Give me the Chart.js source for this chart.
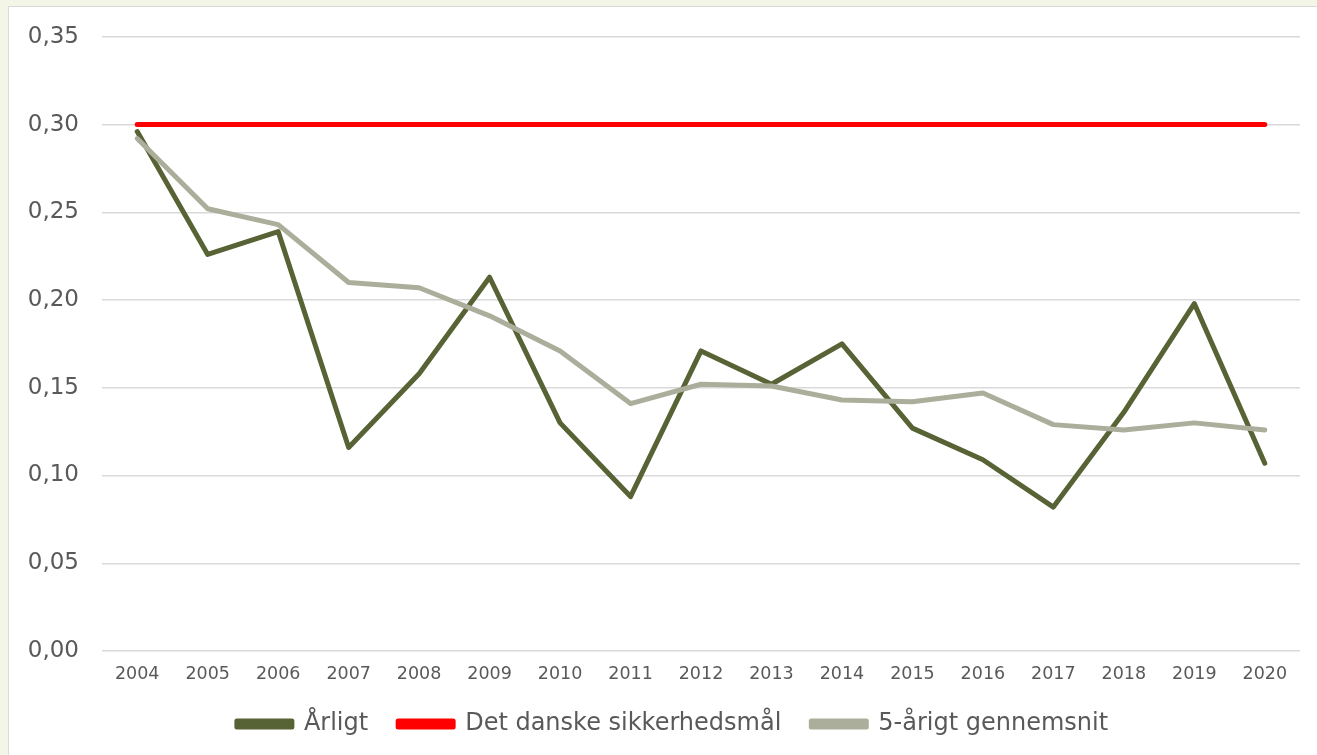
<!DOCTYPE html>
<html>
<head>
<meta charset="utf-8">
<script src="https://cdn.jsdelivr.net/npm/chart.js@4"></script>
<style>
    html, body { margin: 0; padding: 0; background: #F3F6E7; overflow: hidden; }
    #panel { position: absolute; left: 8px; top: 6px; width: 1330px; height: 770px; background: #fff; border: 1px solid #D9D9D9; }
    #wrap { position: absolute; left: 0; top: 0; width: 1317px; height: 755px; }
</style>
</head>
<body>
<div id="panel"></div>
<div id="wrap"><canvas id="chart"></canvas></div>
<script>
const years = ["2004", "2005", "2006", "2007", "2008", "2009", "2010", "2011", "2012",
    "2013", "2014", "2015", "2016", "2017", "2018", "2019", "2020"];

// Årligt
const annual = [0.296, 0.226, 0.239, 0.116, 0.158, 0.213, 0.130, 0.088, 0.171,
    0.152, 0.175, 0.127, 0.109, 0.082, 0.136, 0.198, 0.107];

// Det danske sikkerhedsmål
const target = [0.30, 0.30, 0.30, 0.30, 0.30, 0.30, 0.30, 0.30, 0.30,
    0.30, 0.30, 0.30, 0.30, 0.30, 0.30, 0.30, 0.30];

// 5-årigt gennemsnit
const fiveYear = [0.292, 0.252, 0.243, 0.210, 0.207, 0.191, 0.171, 0.141, 0.152,
    0.151, 0.143, 0.142, 0.147, 0.129, 0.126, 0.130, 0.126];

const textColor = "#595959";
const fontFamily = "'DejaVu Sans', Verdana, sans-serif";

function lineSet(label, data, color, order) {
    return {
        label: label,
        data: data,
        borderColor: color,
        backgroundColor: color,
        borderWidth: 5,
        pointRadius: 0,
        borderCapStyle: "round",
        borderJoinStyle: "round",
        tension: 0,
        order: order
    };
}

const ctx = document.getElementById("chart").getContext("2d");
new Chart(ctx, {
    type: "line",
    data: {
        labels: years,
        datasets: [
            lineSet("Årligt", annual, "#576235", 3),
            lineSet("Det danske sikkerhedsmål", target, "#FF0000", 2),
            lineSet("5-årigt gennemsnit", fiveYear, "#ABAE9A", 1)
        ]
    },
    options: {
        responsive: true,
        maintainAspectRatio: false,
        animation: false,
        layout: { padding: { left: 28, right: 0, top: 36, bottom: 9 } },
        plugins: {
            tooltip: { enabled: false },
            legend: {
                position: "bottom",
                labels: {
                    boxWidth: 55,
                    boxHeight: 6,
                    padding: 30,
                    color: textColor,
                    font: { family: fontFamily, size: 24 },
                    sort: (a, b) => a.datasetIndex - b.datasetIndex
                }
            }
        },
        scales: {
            x: {
                offset: true,
                grid: { display: false },
                border: { display: false },
                ticks: {
                    color: textColor,
                    padding: 5,
                    maxRotation: 0,
                    font: { family: fontFamily, size: 17.5 }
                },
                afterFit: (scale) => { scale.height = 31; }
            },
            y: {
                min: 0,
                max: 0.35,
                grid: { color: "#D9D9D9", lineWidth: 1.5, drawTicks: false },
                border: { display: false },
                ticks: {
                    stepSize: 0.05,
                    color: textColor,
                    padding: 23,
                    font: { family: fontFamily, size: 23 },
                    callback: (v) => v.toFixed(2).replace(".", ",")
                },
                afterFit: (scale) => { scale.width = 74; }
            },
            yRight: {
                position: "right",
                display: true,
                grid: { display: false, drawTicks: false },
                border: { display: false },
                ticks: { display: false },
                afterFit: (scale) => { scale.width = 17; }
            }
        }
    }
});
</script>
</body>
</html>
